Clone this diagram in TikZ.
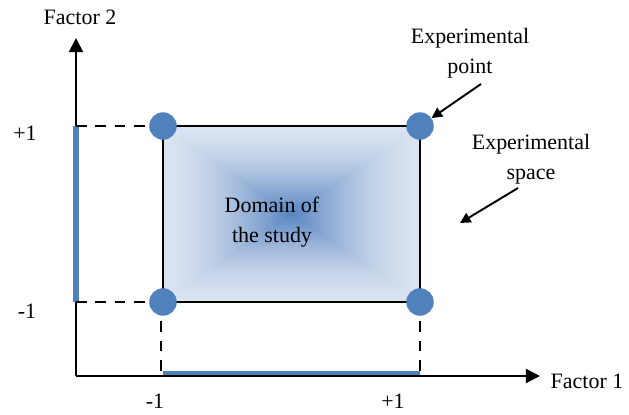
\documentclass[tikz,border=0pt]{standalone}
\usepackage{fontspec}
\setmainfont{Liberation Serif}
\usetikzlibrary{arrows.meta, positioning}
\definecolor{ptblue}{HTML}{4F81BD}
\definecolor{domlight}{HTML}{DAE3F0}
\definecolor{domdark}{HTML}{5683C0}

\begin{document}
\begin{tikzpicture}[x=0.02cm, y=-0.02cm,
  every node/.style={font=\fontsize{12.5}{17}\selectfont},
  axisline/.style={-{Triangle[length=8pt,width=8pt]}, line width=1.1pt},
  guide/.style={dash pattern=on 6pt off 5pt, line width=1.3pt},
  rangebar/.style={ptblue, line width=3pt},
  expt/.style={circle, fill=ptblue, inner sep=0pt, minimum size=0.55cm},
  arr/.style={-{Triangle[length=6pt,width=6pt]}, line width=1.1pt}
]
\useasboundingbox (0,0) rectangle (629,414);
% corners of the domain
\coordinate (TL) at (163,126);
\coordinate (TR) at (420,126);
\coordinate (BL) at (163,302);
\coordinate (BR) at (420,302);
% shaded domain, nested rectangles towards the centre
\foreach \i in {0,...,63}{
  \pgfmathsetmacro{\f}{\i/64}
  \pgfmathsetmacro{\g}{100*\f^1.6}
  \pgfmathsetmacro{\hx}{128.5*(1-\f)}
  \pgfmathsetmacro{\hy}{88*(1-\f)}
  \fill[domdark!\g!domlight] (291.5-\hx,214-\hy) rectangle (291.5+\hx,214+\hy);
}
\draw[line width=1.1pt] (TL) rectangle (BR);
% axes
\coordinate (O)    at (76,376);
\coordinate (ytip) at (76,38);
\coordinate (xtip) at (540,376);
\coordinate (yhi)  at (76,126);
\coordinate (ylo)  at (76,302);
\coordinate (xlo)  at (161,376);
\coordinate (xhi)  at (420,376);
\draw[rangebar] (163,374) -- (420,374);
\draw[axisline] (O) -- (ytip);
\draw[axisline] (O) -- (xtip);
\draw[rangebar] (yhi) -- (ylo);
\draw[guide] (yhi) -- (TL);
\draw[guide] (ylo) -- (BL);
\draw[guide] (161,302) -- (xlo);
\draw[guide] (BR) -- (xhi);
% experimental points
\node[expt] (pTL) at (TL) {};
\node[expt] (pTR) at (TR) {};
\node[expt] (pBL) at (BL) {};
\node[expt] (pBR) at (BR) {};
% labels
\node (f2) at (80,17) {Factor 2};
\node (f1) at (587,381) {Factor 1};
\node (yp) at (25,133) {+1};
\node (ym) at (27,311) {-1};
\node (xm) at (155,401) {-1};
\node (xp) at (393,401) {+1};
\node[align=center] (dom)   at (272,222) {Domain of\\the study};
\node[align=center] (eplab) at (470,53)  {Experimental\\point};
\node[align=center] (eslab) at (531,159) {Experimental\\space};
\coordinate (ptail) at (481,84);
\coordinate (stail) at (518,188);
\coordinate (shead) at (460,223);
\draw[arr] (ptail) -- (pTR);
\draw[arr] (stail) -- (shead);
\end{tikzpicture}
\end{document}
